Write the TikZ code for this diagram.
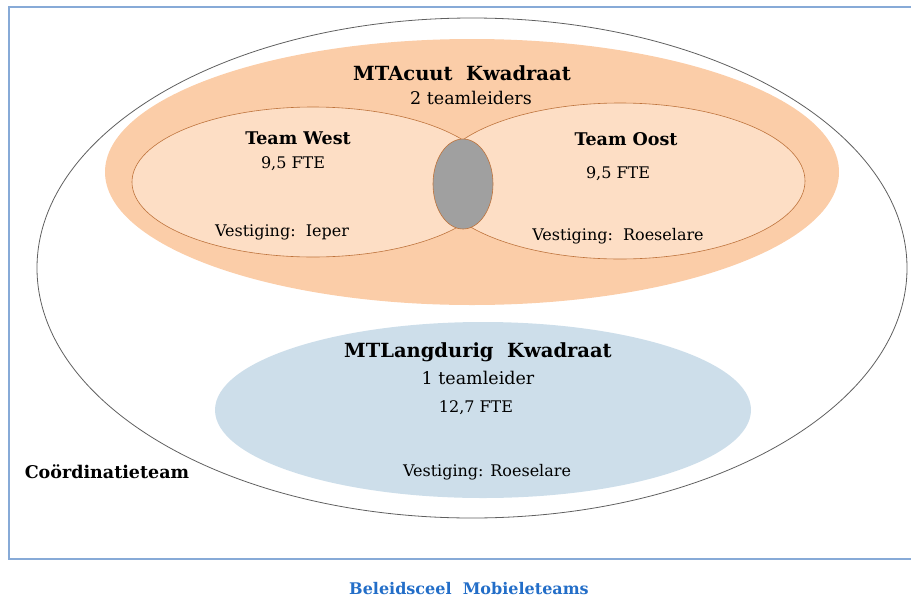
\documentclass[tikz,border=0pt]{standalone}
\usepackage{fontspec}
\setmainfont{DejaVu Serif}
\usetikzlibrary{shapes.geometric}
\definecolor{coordline}  {RGB}{ 95, 95, 95}
\definecolor{acuutbg}    {RGB}{251,205,168}
\definecolor{teambg}     {RGB}{253,222,197}
\definecolor{teamline}   {RGB}{190,115, 60}
\definecolor{overlapgray}{RGB}{160,160,160}
\definecolor{langbg}     {RGB}{205,222,234}
\definecolor{framecol}   {RGB}{135,170,215}
\definecolor{titleblue}  {RGB}{ 35,110,200}

\begin{document}
\begin{tikzpicture}[
    x=1pt, y=-1pt,
    zone/.style={ellipse, inner sep=0pt},
    team/.style={zone, fill=teambg, draw=teamline, line width=0.6pt},
    head/.style={font=\fontsize{19.5}{22}\selectfont\bfseries},
    teamhead/.style={font=\fontsize{17.5}{20}\selectfont\bfseries},
    sub/.style={font=\fontsize{17.5}{20}\selectfont},
    small/.style={font=\fontsize{16}{19}\selectfont}
]
    \useasboundingbox (0,0) rectangle (911,598);

    % Frame (open at the right side)
    \draw[framecol, line width=1.6pt] (911,7) -- (9,7) -- (9,559) -- (911,559);

    % Zones
    \node[zone, draw=coordline, line width=0.8pt, minimum width=870, minimum height=500] (coord) at (472,268) {};
    \node[zone, fill=acuutbg, minimum width=734, minimum height=266] (acuut) at (472,172) {};
    \node[team, minimum width=362, minimum height=150] (west) at (313,182) {};
    \node[team, minimum width=370, minimum height=156] (oost) at (620,181) {};
    \node[zone, fill=overlapgray, draw=teamline, line width=0.6pt, minimum width=60, minimum height=90] (overlap) at (463,184) {};
    \node[zone, fill=langbg, minimum width=536, minimum height=176] (lang) at (483,410) {};

    % Labels MTAcuut
    \node[head] (acuuttitle) at (462,73) {MTAcuut\ \ Kwadraat};
    \node[sub] (acuutlead) at (471,98) {2 teamleiders};

    \node[teamhead] (westtitle) at (298,138) {Team West};
    \node[small] (westfte) at (293,164) {9,5 FTE};
    \node[small] (westloc) at (282,232) {Vestiging:\ \ Ieper};

    \node[teamhead] (oosttitle) at (626,139) {Team Oost};
    \node[small] (oostfte) at (618,174) {9,5 FTE};
    \node[small] (oostloc) at (618,236) {Vestiging:\ \ Roeselare};

    % Labels MTLangdurig
    \node[head] (langtitle) at (478,352) {MTLangdurig\ \ Kwadraat};
    \node[sub] (langlead) at (478,378) {1 teamleider};
    \node[small] (langfte) at (476,408) {12,7 FTE};
    \node[small] (langloc) at (487,472) {Vestiging: Roeselare};

    \node[font=\fontsize{17.5}{20}\selectfont\bfseries] (coordlabel) at (107,472) {Coördinatieteam};
    \node[font=\fontsize{16}{19}\selectfont\bfseries, text=titleblue] (caption) at (469,589) {Beleidsceel\ \ Mobieleteams};
\end{tikzpicture}
\end{document}
